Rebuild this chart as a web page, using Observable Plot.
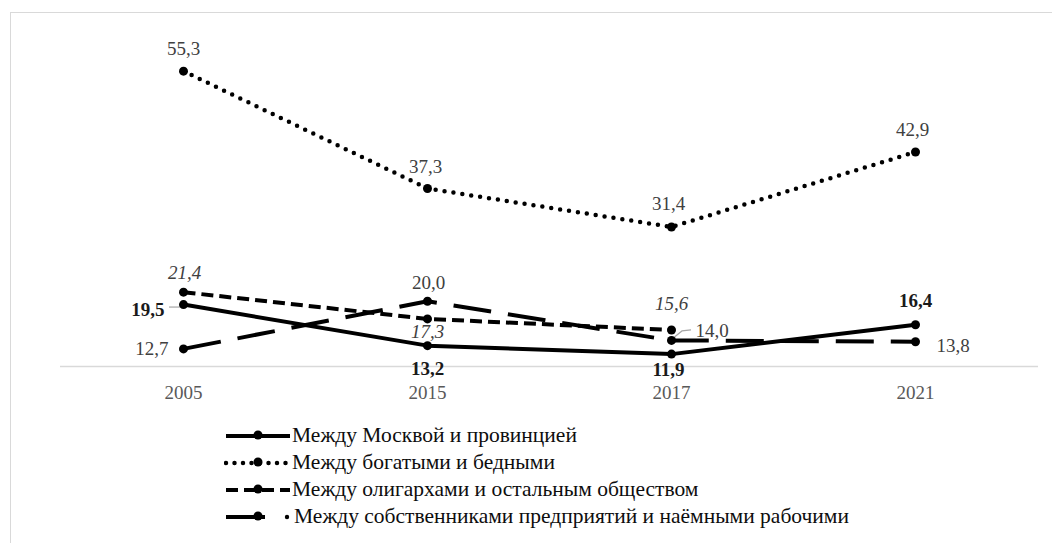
<!DOCTYPE html>
<html><head><meta charset="utf-8">
<script src="https://cdn.jsdelivr.net/npm/d3@7"></script>
<script src="https://cdn.jsdelivr.net/npm/@observablehq/plot@0.6"></script>
<style>
body{margin:0;background:#fff;font-family:"Liberation Serif",serif;}
#wrap{position:relative;width:1052px;height:543px;overflow:hidden;}
#frame{position:absolute;left:10px;top:12px;width:1100px;height:600px;border-top:1px solid #d9d9d9;border-left:1px solid #d9d9d9;}
#chart{position:absolute;left:0;top:0;}
#legend{position:absolute;left:224px;top:422px;}
.row{height:27px;display:flex;align-items:center;font-size:21.5px;color:#0d0d0d;white-space:nowrap;font-family:"Liberation Serif",serif;}
.row svg{flex:none;}
</style></head>
<body>
<div id="wrap"><div id="frame"></div><div id="chart"></div><div id="legend"></div></div>
<script>
// ---- data ----
const years = ["2005", "2015", "2017", "2021"];
const seriesNames = [
  "Между Москвой и провинцией",
  "Между богатыми и бедными",
  "Между олигархами и остальным обществом",
  "Между собственниками предприятий и наёмными рабочими"
];
const moscow = [19.5, 13.2, 11.9, 16.4];
const richPoor = [55.3, 37.3, 31.4, 42.9];
const oligarchs = [21.4, 17.3, 15.6, null];
const owners = [12.7, 20.0, 14.0, 13.8];

// ---- styling / placement (not data) ----
const FONT = "Liberation Serif, serif";
const styles = [
  {dash: null, cap: "butt", width: 4, labelWeight: "bold", labelStyle: "normal", labelFill: "#1a1a1a",
   off: [[-19, 5, "end"], [0, 23, "middle"], [-3, 16, "middle"], [0, -24, "middle"]]},
  {dash: "0,9", cap: "round", width: 4.5, labelWeight: "normal", labelStyle: "normal", labelFill: "#404040",
   off: [[0, -22, "middle"], [-2, -22, "middle"], [-3, -23, "middle"], [-3, -22, "middle"]]},
  {dash: "12,6", cap: "butt", width: 4, labelWeight: "normal", labelStyle: "italic", labelFill: "#404040",
   off: [[1, -19, "middle"], [0, 13, "middle"], [0, -26, "middle"], [0, 0, "middle"]]},
  {dash: "38,17", cap: "butt", width: 4, labelWeight: "normal", labelStyle: "normal", labelFill: "#404040",
   off: [[-15, 0, "end"], [1, -18, "middle"], [24, -10, "start"], [21, 4, "start"]]}
];

const allValues = [moscow, richPoor, oligarchs, owners];
const rows = [];
allValues.forEach((vals, s) => vals.forEach((v, i) => {
  if (v != null) rows.push({series: s, year: years[i], value: v, i});
}));
const fmt = v => d3.format(".1f")(v).replace(".", ",");

// leader lines drawn through the plot's scales (pixel offsets from the labelled point)
const leaders = [
  {year: years[0], value: moscow[0], path: [[-14, 3], [-3, 3]]},
  {year: years[2], value: owners[2], path: [[1, -1], [11, -9], [20, -10]]}
];
function leaderMark(index, scales) {
  const g = d3.create("svg:g");
  leaders.forEach(l => {
    const px = scales.x(l.year), py = scales.y(l.value);
    g.append("path")
      .attr("d", "M" + l.path.map(([dx, dy]) => `${px + dx},${py + dy}`).join("L"))
      .attr("fill", "none").attr("stroke", "#a6a6a6").attr("stroke-width", 1.2);
  });
  return g.node();
}

const marks = [
  Plot.ruleY([10], {stroke: "#d9d9d9", strokeWidth: 1.5}),
  Plot.axisX({tickSize: 0, tickPadding: 19, fontSize: 19, fill: "#595959", label: null, fontFamily: FONT}),
  leaderMark
];
styles.forEach((st, s) => {
  const d = rows.filter(r => r.series === s);
  marks.push(Plot.line(d, {x: "year", y: "value", stroke: "#000", strokeWidth: st.width,
    strokeDasharray: st.dash, strokeLinecap: st.cap, curve: "linear"}));
  marks.push(Plot.dot(d, {x: "year", y: "value", r: 4.5, fill: "#000"}));
});
rows.forEach(r => {
  const st = styles[r.series];
  const [dx, dy, anchor] = st.off[r.i];
  marks.push(Plot.text([r], {x: "year", y: "value", text: d => fmt(d.value), dx, dy,
    textAnchor: anchor, fontSize: 19, fontWeight: st.labelWeight, fontStyle: st.labelStyle,
    fill: st.labelFill, fontFamily: FONT}));
});

const chart = Plot.plot({
  width: 1052, height: 410,
  marginTop: 40, marginBottom: 44, marginLeft: 60, marginRight: 14,
  style: {fontFamily: FONT, background: "transparent", overflow: "visible"},
  x: {type: "point", domain: years, range: [60, 1038], padding: 0.5, label: null},
  y: {domain: [10, 60], range: [366, 40], axis: null},
  marks
});
document.getElementById("chart").appendChild(chart);

// ---- legend ----
const legend = document.getElementById("legend");
seriesNames.forEach((name, s) => {
  const st = styles[s];
  const row = document.createElement("div");
  row.className = "row";
  const ns = "http://www.w3.org/2000/svg";
  const svg = document.createElementNS(ns, "svg");
  svg.setAttribute("width", s === 3 ? 70 : 68);
  svg.setAttribute("height", 14);
  if (s === 3) {
    svg.innerHTML = `<line x1="2" y1="7" x2="41" y2="7" stroke="#000" stroke-width="4"/>` +
      `<circle cx="34" cy="6" r="4.5" fill="#000"/><circle cx="63" cy="7" r="2.2" fill="#000"/>`;
  } else {
    svg.innerHTML = `<line x1="2" y1="7" x2="66" y2="7" stroke="#000" stroke-width="${st.width}" ` +
      (st.dash ? `stroke-dasharray="${s === 1 ? '0,8.5' : '12,6'}" ` : "") +
      `stroke-linecap="${st.cap}"/><circle cx="34" cy="6" r="4.5" fill="#000"/>`;
  }
  row.appendChild(svg);
  const span = document.createElement("span");
  span.textContent = name;
  row.appendChild(span);
  legend.appendChild(row);
});
</script>
</body></html>
